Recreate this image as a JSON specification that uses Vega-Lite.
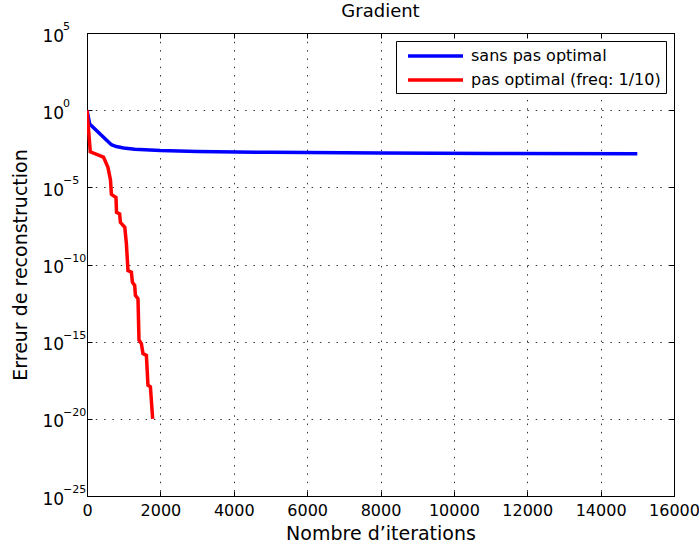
{
  "$schema": "https://vega.github.io/schema/vega-lite/v6.json",
  "width": 587,
  "height": 463,
  "autosize": {"type": "none"},
  "padding": {"left": 87, "top": 33, "right": 25, "bottom": 55},
  "background": "white",
  "config": {
    "font": "DejaVu Sans",
    "view": {"stroke": "black", "strokeWidth": 1},
    "axis": {
      "domainColor": "black",
      "tickColor": "black",
      "labelColor": "black",
      "titleColor": "black",
      "labelFont": "DejaVu Sans",
      "titleFont": "DejaVu Sans",
      "titleFontWeight": "normal"
    }
  },
  "title": {
    "text": "Gradient",
    "font": "DejaVu Sans",
    "fontSize": 18,
    "fontWeight": "normal",
    "color": "black",
    "offset": 0
  },
  "datasets": {
    "err": [
      {"iter": 0, "err": 1, "serie": "sans pas optimal"},
      {"iter": 74, "err": 0.126, "serie": "sans pas optimal"},
      {"iter": 665, "err": 0.0058, "serie": "sans pas optimal"},
      {"iter": 800, "err": 0.0044, "serie": "sans pas optimal"},
      {"iter": 1000, "err": 0.0035, "serie": "sans pas optimal"},
      {"iter": 1300, "err": 0.0029, "serie": "sans pas optimal"},
      {"iter": 2000, "err": 0.0024, "serie": "sans pas optimal"},
      {"iter": 3000, "err": 0.0021, "serie": "sans pas optimal"},
      {"iter": 5000, "err": 0.00185, "serie": "sans pas optimal"},
      {"iter": 8000, "err": 0.00165, "serie": "sans pas optimal"},
      {"iter": 11000, "err": 0.00155, "serie": "sans pas optimal"},
      {"iter": 15000, "err": 0.0015, "serie": "sans pas optimal"},
      {"iter": 0, "err": 1, "serie": "pas optimal (freq: 1/10)"},
      {"iter": 90, "err": 0.002, "serie": "pas optimal (freq: 1/10)"},
      {"iter": 450, "err": 0.0009, "serie": "pas optimal (freq: 1/10)"},
      {"iter": 570, "err": 0.0002, "serie": "pas optimal (freq: 1/10)"},
      {"iter": 640, "err": 3e-5, "serie": "pas optimal (freq: 1/10)"},
      {"iter": 665, "err": 3.5e-6, "serie": "pas optimal (freq: 1/10)"},
      {"iter": 790, "err": 2.2e-6, "serie": "pas optimal (freq: 1/10)"},
      {"iter": 805, "err": 2.4e-7, "serie": "pas optimal (freq: 1/10)"},
      {"iter": 890, "err": 1.9e-7, "serie": "pas optimal (freq: 1/10)"},
      {"iter": 910, "err": 5.4e-8, "serie": "pas optimal (freq: 1/10)"},
      {"iter": 1030, "err": 2.6e-8, "serie": "pas optimal (freq: 1/10)"},
      {"iter": 1074, "err": 2.2e-9, "serie": "pas optimal (freq: 1/10)"},
      {"iter": 1117, "err": 4e-11, "serie": "pas optimal (freq: 1/10)"},
      {"iter": 1210, "err": 3.2e-11, "serie": "pas optimal (freq: 1/10)"},
      {"iter": 1237, "err": 7.2e-12, "serie": "pas optimal (freq: 1/10)"},
      {"iter": 1300, "err": 4.4e-12, "serie": "pas optimal (freq: 1/10)"},
      {"iter": 1319, "err": 1e-12, "serie": "pas optimal (freq: 1/10)"},
      {"iter": 1390, "err": 6e-13, "serie": "pas optimal (freq: 1/10)"},
      {"iter": 1417, "err": 1.3e-15, "serie": "pas optimal (freq: 1/10)"},
      {"iter": 1482, "err": 7.4e-16, "serie": "pas optimal (freq: 1/10)"},
      {"iter": 1526, "err": 1.7e-16, "serie": "pas optimal (freq: 1/10)"},
      {"iter": 1619, "err": 1.3e-16, "serie": "pas optimal (freq: 1/10)"},
      {"iter": 1662, "err": 1.5e-18, "serie": "pas optimal (freq: 1/10)"},
      {"iter": 1728, "err": 1.2e-18, "serie": "pas optimal (freq: 1/10)"},
      {"iter": 1790, "err": 1e-20, "serie": "pas optimal (freq: 1/10)"}
    ],
    "exposants": [
      {"iter": 0, "v": 1e5, "e": "5"},
      {"iter": 0, "v": 1, "e": "0"},
      {"iter": 0, "v": 1e-5, "e": "−5"},
      {"iter": 0, "v": 1e-10, "e": "−10"},
      {"iter": 0, "v": 1e-15, "e": "−15"},
      {"iter": 0, "v": 1e-20, "e": "−20"},
      {"iter": 0, "v": 1e-25, "e": "−25"}
    ]
  },
  "layer": [
    {
      "data": {"name": "err"},
      "mark": {"type": "line", "strokeWidth": 3.5, "clip": true},
      "encoding": {
        "x": {
          "field": "iter",
          "type": "quantitative",
          "scale": {"domain": [0, 16000], "nice": false, "zero": false},
          "axis": {
            "title": "Nombre d’iterations",
            "titleFontSize": 19,
            "titlePadding": 6,
            "values": [0, 2000, 4000, 6000, 8000, 10000, 12000, 14000, 16000],
            "format": "d",
            "labelFontSize": 16,
            "labelPadding": 11,
            "labelFlush": false,
            "tickSize": -5,
            "grid": true,
            "gridColor": "black",
            "gridOpacity": 0.8,
            "gridDash": [1.5, 6.8]
          }
        },
        "y": {
          "field": "err",
          "type": "quantitative",
          "scale": {"type": "log", "domain": [1e-25, 1e5], "nice": false},
          "axis": {
            "title": "Erreur de reconstruction",
            "titleFontSize": 19,
            "titlePadding": 12,
            "values": [1e-25, 1e-20, 1e-15, 1e-10, 1e-5, 1, 1e5],
            "labelExpr": "'10'",
            "labelFontSize": 17,
            "labelAlign": "left",
            "labelBaseline": "alphabetic",
            "labelOffset": 8,
            "labelPadding": 50,
            "labelFlush": false,
            "tickSize": -5,
            "grid": true,
            "gridColor": "black",
            "gridOpacity": 0.8,
            "gridDash": [1.5, 6.8]
          }
        },
        "color": {
          "field": "serie",
          "type": "nominal",
          "scale": {
            "domain": ["sans pas optimal", "pas optimal (freq: 1/10)"],
            "range": ["#0000ff", "#ff0000"]
          },
          "legend": {
            "title": null,
            "orient": "top-right",
            "offset": 8,
            "padding": 5,
            "fillColor": "white",
            "strokeColor": "black",
            "cornerRadius": 0,
            "symbolType": "M-0.375,0H6.5",
            "symbolSize": 256,
            "symbolStrokeWidth": 3.5,
            "labelFont": "DejaVu Sans",
            "labelFontSize": 16,
            "labelColor": "black",
            "labelOffset": 50,
            "labelLimit": 300,
            "rowPadding": 6
          }
        }
      }
    },
    {
      "data": {"name": "err"},
      "mark": {"type": "line", "strokeOpacity": 0},
      "encoding": {
        "x": {
          "field": "iter",
          "type": "quantitative",
          "axis": {
            "title": null,
            "orient": "top",
            "values": [0, 2000, 4000, 6000, 8000, 10000, 12000, 14000, 16000],
            "labels": false,
            "tickSize": -5,
            "grid": false
          }
        },
        "y": {
          "field": "err",
          "type": "quantitative",
          "axis": {
            "title": null,
            "orient": "right",
            "values": [1e-25, 1e-20, 1e-15, 1e-10, 1e-5, 1, 1e5],
            "labels": false,
            "tickSize": -5,
            "grid": false
          }
        },
        "detail": {"field": "serie"}
      }
    },
    {
      "data": {"name": "exposants"},
      "mark": {
        "type": "text",
        "align": "left",
        "baseline": "alphabetic",
        "fontSize": 11,
        "font": "DejaVu Sans",
        "color": "black",
        "dx": -24,
        "dy": -3
      },
      "encoding": {
        "x": {"field": "iter", "type": "quantitative", "axis": null},
        "y": {"field": "v", "type": "quantitative", "axis": null},
        "text": {"field": "e"}
      }
    }
  ],
  "resolve": {"axis": {"x": "independent", "y": "independent"}}
}
